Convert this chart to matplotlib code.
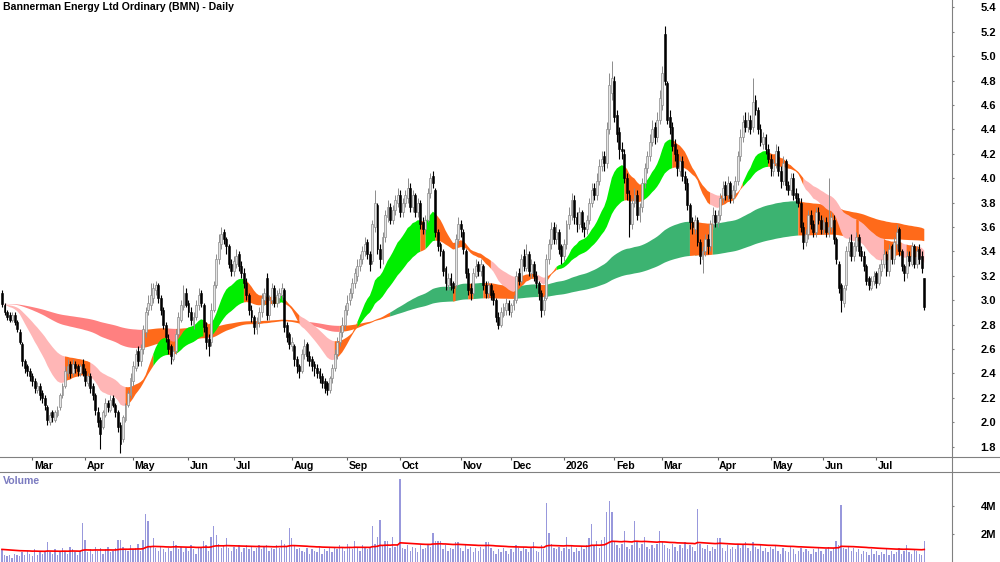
import numpy as np
import pandas as pd
import matplotlib
matplotlib.use("Agg")
import matplotlib.pyplot as plt

plt.rcParams['font.family'] = ['Liberation Sans', 'DejaVu Sans']
plt.rcParams['font.weight'] = 'bold'

# daily candles (Feb 2025 - Jul 2026)
opens = [
    3.06, 2.96, 2.90, 2.88, 2.84, 2.88, 2.82, 2.74, 2.64, 2.50,
    2.46, 2.42, 2.38, 2.34, 2.26, 2.30, 2.24, 2.20, 2.12, 2.00,
    2.08, 2.02, 2.06, 2.12, 2.22, 2.30, 2.40, 2.48, 2.40, 2.48,
    2.46, 2.40, 2.48, 2.42, 2.32, 2.38, 2.30, 2.22, 2.08, 2.02,
    1.96, 2.06, 2.16, 2.10, 2.20, 2.14, 2.08, 1.98, 1.86, 2.02,
    2.14, 2.22, 2.34, 2.44, 2.58, 2.50, 2.60, 2.74, 2.92, 2.96,
    3.02, 3.08, 3.12, 3.02, 2.92, 2.80, 2.68, 2.62, 2.52, 2.58,
    2.72, 2.84, 2.94, 3.06, 2.98, 2.90, 2.80, 2.86, 2.96, 3.06,
    2.96, 2.78, 2.68, 2.66, 2.92, 3.12, 3.34, 3.46, 3.56, 3.50,
    3.44, 3.30, 3.24, 3.30, 3.38, 3.28, 3.22, 3.14, 3.04, 2.92,
    2.86, 2.76, 2.82, 2.90, 3.00, 3.18, 2.88, 3.00, 3.10, 2.98,
    3.02, 3.04, 3.08, 2.80, 2.72, 2.62, 2.62, 2.52, 2.46, 2.42,
    2.56, 2.64, 2.54, 2.52, 2.48, 2.44, 2.42, 2.38, 2.34, 2.32,
    2.26, 2.36, 2.44, 2.56, 2.66, 2.74, 2.80, 2.92, 3.00, 3.06,
    3.14, 3.20, 3.28, 3.34, 3.40, 3.48, 3.38, 3.32, 3.60, 3.78,
    3.42, 3.34, 3.52, 3.68, 3.76, 3.66, 3.74, 3.80, 3.86, 3.72,
    3.80, 3.84, 3.92, 3.76, 3.86, 3.72, 3.80, 3.64, 3.58, 3.66,
    3.88, 4.02, 3.90, 3.56, 3.46, 3.40, 3.26, 3.12, 3.18, 3.14,
    3.12, 3.50, 3.62, 3.56, 3.40, 3.22, 3.10, 3.06, 3.20, 3.30,
    3.24, 3.28, 3.12, 3.06, 3.12, 3.06, 3.00, 2.86, 2.80, 2.88,
    2.92, 2.98, 2.90, 2.96, 3.00, 3.22, 3.16, 3.36, 3.26, 3.38,
    3.22, 3.30, 3.20, 3.14, 3.06, 2.92, 3.02, 3.34, 3.46, 3.60,
    3.50, 3.56, 3.44, 3.36, 3.46, 3.62, 3.70, 3.82, 3.68, 3.62,
    3.72, 3.60, 3.58, 3.66, 3.80, 3.92, 3.86, 3.98, 4.10, 4.18,
    4.12, 4.40, 4.70, 4.80, 4.52, 4.38, 4.24, 4.20, 4.00, 3.86,
    3.62, 3.80, 3.86, 3.70, 3.76, 3.96, 4.08, 4.18, 4.30, 4.42,
    4.34, 4.48, 4.60, 5.18, 4.78, 4.50, 4.42, 4.28, 4.20, 4.06,
    4.14, 4.02, 3.96, 3.78, 3.64, 3.58, 3.66, 3.48, 3.34, 3.40,
    3.50, 3.44, 3.62, 3.70, 3.64, 3.70, 3.84, 3.94, 3.86, 3.96,
    3.84, 3.90, 3.98, 4.18, 4.34, 4.48, 4.42, 4.48, 4.42, 4.64,
    4.56, 4.40, 4.28, 4.34, 4.24, 4.16, 4.06, 4.12, 4.22, 4.06,
    3.98, 4.14, 3.94, 3.90, 4.00, 3.88, 3.84, 3.80, 3.60, 3.48,
    3.54, 3.70, 3.62, 3.56, 3.72, 3.66, 3.58, 3.64, 3.56, 3.60,
    3.66, 3.50, 3.30, 3.12, 2.98, 3.12, 3.40, 3.48, 3.36, 3.44,
    3.52, 3.40, 3.36, 3.28, 3.18, 3.10, 3.16, 3.22, 3.14, 3.24,
    3.30, 3.38, 3.24, 3.44, 3.34, 3.46, 3.58, 3.40, 3.28, 3.22,
    3.36, 3.30, 3.44, 3.30, 3.42, 3.36, 3.18,
]
highs = [
    3.08, 2.98, 2.92, 2.90, 2.90, 2.90, 2.84, 2.76, 2.66, 2.52,
    2.48, 2.44, 2.40, 2.36, 2.33, 2.32, 2.26, 2.22, 2.14, 2.08,
    2.10, 2.10, 2.13, 2.24, 2.32, 2.46, 2.52, 2.50, 2.52, 2.50,
    2.48, 2.48, 2.52, 2.44, 2.40, 2.40, 2.32, 2.24, 2.12, 2.04,
    2.10, 2.20, 2.18, 2.22, 2.22, 2.16, 2.10, 2.00, 2.06, 2.16,
    2.26, 2.40, 2.50, 2.60, 2.62, 2.64, 2.80, 2.94, 3.04, 3.14,
    3.14, 3.16, 3.14, 3.04, 2.94, 2.82, 2.72, 2.64, 2.62, 2.76,
    2.90, 3.00, 3.12, 3.10, 3.00, 2.94, 2.90, 3.00, 3.10, 3.08,
    2.98, 2.82, 2.72, 2.98, 3.16, 3.38, 3.54, 3.60, 3.58, 3.52,
    3.46, 3.34, 3.36, 3.42, 3.40, 3.32, 3.26, 3.18, 3.06, 2.96,
    2.88, 2.86, 2.94, 3.06, 3.10, 3.22, 3.04, 3.14, 3.12, 3.08,
    3.10, 3.14, 3.10, 2.82, 2.74, 2.70, 2.64, 2.54, 2.48, 2.60,
    2.68, 2.66, 2.58, 2.54, 2.50, 2.48, 2.44, 2.40, 2.36, 2.34,
    2.38, 2.48, 2.60, 2.70, 2.78, 2.86, 2.96, 3.04, 3.10, 3.18,
    3.26, 3.34, 3.38, 3.44, 3.52, 3.50, 3.40, 3.66, 3.90, 3.80,
    3.46, 3.56, 3.74, 3.82, 3.80, 3.78, 3.86, 3.92, 3.90, 3.84,
    3.90, 4.00, 3.96, 3.90, 3.88, 3.84, 3.82, 3.68, 3.70, 3.92,
    4.04, 4.06, 3.92, 3.58, 3.48, 3.42, 3.28, 3.22, 3.22, 3.16,
    3.54, 3.68, 3.66, 3.58, 3.42, 3.26, 3.14, 3.26, 3.34, 3.32,
    3.34, 3.30, 3.16, 3.16, 3.14, 3.08, 3.02, 2.90, 2.94, 2.98,
    3.02, 3.00, 2.98, 3.04, 3.24, 3.26, 3.38, 3.42, 3.46, 3.40,
    3.34, 3.32, 3.24, 3.16, 3.08, 3.04, 3.38, 3.50, 3.64, 3.64,
    3.62, 3.58, 3.46, 3.50, 3.66, 3.76, 3.88, 3.86, 3.72, 3.76,
    3.74, 3.64, 3.70, 3.84, 3.96, 3.96, 4.04, 4.16, 4.22, 4.22,
    4.46, 4.86, 4.96, 4.84, 4.56, 4.42, 4.30, 4.24, 4.04, 3.90,
    3.84, 3.92, 3.90, 3.80, 4.00, 4.12, 4.22, 4.36, 4.48, 4.46,
    4.54, 4.72, 4.92, 5.25, 4.80, 4.56, 4.46, 4.32, 4.24, 4.18,
    4.18, 4.06, 4.00, 3.80, 3.68, 3.70, 3.68, 3.50, 3.44, 3.54,
    3.54, 3.66, 3.76, 3.74, 3.74, 3.88, 3.98, 3.98, 4.02, 3.98,
    3.94, 4.02, 4.22, 4.40, 4.52, 4.54, 4.54, 4.52, 4.82, 4.68,
    4.58, 4.44, 4.38, 4.36, 4.28, 4.20, 4.16, 4.28, 4.26, 4.10,
    4.18, 4.16, 3.98, 4.04, 4.04, 3.92, 3.88, 3.84, 3.64, 3.58,
    3.74, 3.74, 3.66, 3.76, 3.76, 3.70, 3.68, 3.68, 4.00, 3.72,
    3.70, 3.52, 3.32, 3.14, 3.12, 3.44, 3.52, 3.54, 3.48, 3.56,
    3.54, 3.44, 3.40, 3.30, 3.20, 3.20, 3.24, 3.24, 3.30, 3.34,
    3.42, 3.40, 3.46, 3.46, 3.52, 3.62, 3.60, 3.42, 3.30, 3.40,
    3.40, 3.48, 3.46, 3.44, 3.46, 3.40, 3.18,
]
lows = [
    2.94, 2.88, 2.84, 2.82, 2.82, 2.80, 2.74, 2.64, 2.46, 2.40,
    2.38, 2.34, 2.30, 2.24, 2.24, 2.18, 2.16, 2.10, 1.98, 1.98,
    2.00, 2.00, 2.04, 2.10, 2.20, 2.28, 2.38, 2.36, 2.38, 2.40,
    2.38, 2.38, 2.38, 2.30, 2.30, 2.24, 2.18, 2.06, 1.96, 1.78,
    1.94, 2.04, 2.08, 2.08, 2.12, 2.04, 1.92, 1.75, 1.84, 2.00,
    2.12, 2.20, 2.30, 2.42, 2.46, 2.46, 2.56, 2.70, 2.88, 2.92,
    2.98, 3.04, 2.98, 2.88, 2.76, 2.66, 2.56, 2.48, 2.50, 2.56,
    2.70, 2.82, 2.92, 2.94, 2.86, 2.80, 2.76, 2.84, 2.92, 2.94,
    2.74, 2.60, 2.54, 2.62, 2.90, 3.10, 3.30, 3.42, 3.46, 3.38,
    3.26, 3.20, 3.20, 3.26, 3.24, 3.18, 3.10, 3.00, 2.88, 2.82,
    2.72, 2.72, 2.78, 2.86, 2.96, 2.84, 2.84, 2.96, 2.94, 2.94,
    2.98, 3.00, 2.74, 2.66, 2.60, 2.58, 2.46, 2.40, 2.36, 2.40,
    2.52, 2.50, 2.46, 2.42, 2.38, 2.36, 2.32, 2.28, 2.24, 2.22,
    2.24, 2.32, 2.42, 2.52, 2.62, 2.70, 2.76, 2.88, 2.96, 3.02,
    3.10, 3.16, 3.24, 3.30, 3.36, 3.34, 3.24, 3.30, 3.56, 3.38,
    3.26, 3.30, 3.48, 3.64, 3.62, 3.62, 3.70, 3.76, 3.68, 3.68,
    3.76, 3.80, 3.72, 3.72, 3.68, 3.68, 3.58, 3.54, 3.54, 3.64,
    3.84, 3.92, 3.52, 3.40, 3.36, 3.20, 3.08, 3.08, 3.08, 3.06,
    3.10, 3.46, 3.52, 3.38, 3.18, 3.04, 3.00, 3.04, 3.18, 3.20,
    3.20, 3.08, 3.02, 3.02, 3.00, 2.96, 2.82, 2.76, 2.78, 2.86,
    2.88, 2.88, 2.86, 2.92, 2.98, 3.12, 3.14, 3.24, 3.24, 3.20,
    3.18, 3.16, 3.10, 3.00, 2.86, 2.88, 3.00, 3.30, 3.42, 3.46,
    3.46, 3.38, 3.30, 3.32, 3.42, 3.58, 3.66, 3.62, 3.56, 3.58,
    3.56, 3.52, 3.54, 3.62, 3.76, 3.82, 3.82, 3.94, 4.06, 4.06,
    4.08, 4.36, 4.64, 4.46, 4.30, 4.16, 4.16, 3.96, 3.82, 3.52,
    3.58, 3.76, 3.66, 3.64, 3.72, 3.92, 4.04, 4.14, 4.26, 4.28,
    4.30, 4.44, 4.56, 4.76, 4.44, 4.36, 4.22, 4.14, 4.02, 4.02,
    3.98, 3.90, 3.74, 3.58, 3.54, 3.54, 3.44, 3.30, 3.22, 3.36,
    3.38, 3.40, 3.58, 3.60, 3.60, 3.66, 3.80, 3.82, 3.82, 3.80,
    3.80, 3.86, 3.94, 4.14, 4.30, 4.38, 4.38, 4.36, 4.38, 4.52,
    4.36, 4.26, 4.24, 4.20, 4.12, 4.02, 4.02, 4.08, 4.02, 3.92,
    3.94, 3.90, 3.86, 3.86, 3.82, 3.80, 3.76, 3.56, 3.42, 3.44,
    3.50, 3.58, 3.52, 3.52, 3.62, 3.54, 3.54, 3.52, 3.52, 3.56,
    3.46, 3.30, 3.06, 2.90, 2.94, 3.08, 3.36, 3.32, 3.32, 3.40,
    3.36, 3.32, 3.24, 3.12, 3.08, 3.08, 3.12, 3.10, 3.12, 3.20,
    3.26, 3.20, 3.20, 3.30, 3.30, 3.42, 3.36, 3.24, 3.16, 3.18,
    3.28, 3.28, 3.26, 3.26, 3.30, 3.22, 2.92,
]
closes = [
    2.97, 2.90, 2.86, 2.84, 2.88, 2.82, 2.76, 2.66, 2.50, 2.44,
    2.42, 2.38, 2.34, 2.28, 2.30, 2.22, 2.20, 2.14, 2.02, 2.06,
    2.04, 2.08, 2.10, 2.22, 2.30, 2.42, 2.46, 2.40, 2.48, 2.44,
    2.42, 2.46, 2.40, 2.34, 2.38, 2.28, 2.22, 2.10, 2.00, 1.90,
    2.08, 2.16, 2.12, 2.18, 2.14, 2.08, 1.96, 1.82, 2.04, 2.14,
    2.24, 2.36, 2.46, 2.56, 2.50, 2.60, 2.76, 2.90, 2.98, 3.04,
    3.10, 3.12, 3.02, 2.92, 2.80, 2.70, 2.60, 2.54, 2.58, 2.72,
    2.86, 2.96, 3.06, 2.96, 2.90, 2.84, 2.86, 2.96, 3.04, 2.98,
    2.78, 2.66, 2.62, 2.92, 3.12, 3.34, 3.48, 3.54, 3.50, 3.44,
    3.30, 3.24, 3.32, 3.36, 3.28, 3.22, 3.14, 3.04, 2.92, 2.86,
    2.78, 2.82, 2.90, 3.02, 3.06, 2.88, 3.00, 3.10, 2.98, 3.04,
    3.06, 3.10, 2.78, 2.70, 2.64, 2.66, 2.52, 2.46, 2.42, 2.56,
    2.62, 2.54, 2.50, 2.46, 2.44, 2.40, 2.36, 2.32, 2.28, 2.26,
    2.36, 2.44, 2.56, 2.66, 2.74, 2.80, 2.92, 2.98, 3.06, 3.14,
    3.22, 3.28, 3.34, 3.40, 3.46, 3.38, 3.30, 3.62, 3.80, 3.42,
    3.34, 3.52, 3.70, 3.76, 3.66, 3.74, 3.82, 3.86, 3.72, 3.80,
    3.86, 3.92, 3.76, 3.86, 3.72, 3.80, 3.62, 3.58, 3.66, 3.88,
    4.00, 3.96, 3.56, 3.44, 3.40, 3.24, 3.14, 3.18, 3.12, 3.10,
    3.50, 3.62, 3.58, 3.42, 3.22, 3.08, 3.06, 3.22, 3.28, 3.24,
    3.30, 3.12, 3.06, 3.12, 3.04, 3.00, 2.86, 2.80, 2.90, 2.94,
    2.98, 2.92, 2.96, 3.00, 3.20, 3.16, 3.34, 3.28, 3.38, 3.24,
    3.30, 3.20, 3.14, 3.06, 2.92, 3.00, 3.34, 3.46, 3.58, 3.50,
    3.56, 3.42, 3.36, 3.46, 3.62, 3.70, 3.82, 3.68, 3.62, 3.72,
    3.60, 3.58, 3.66, 3.80, 3.90, 3.86, 3.98, 4.10, 4.16, 4.12,
    4.40, 4.76, 4.82, 4.50, 4.36, 4.24, 4.22, 4.00, 3.88, 3.62,
    3.80, 3.86, 3.70, 3.76, 3.96, 4.08, 4.18, 4.30, 4.40, 4.34,
    4.48, 4.66, 4.86, 4.80, 4.48, 4.42, 4.26, 4.20, 4.08, 4.14,
    4.02, 3.96, 3.78, 3.64, 3.60, 3.66, 3.48, 3.36, 3.40, 3.50,
    3.44, 3.62, 3.70, 3.64, 3.70, 3.84, 3.92, 3.86, 3.96, 3.84,
    3.90, 3.98, 4.18, 4.34, 4.46, 4.42, 4.48, 4.40, 4.62, 4.56,
    4.40, 4.30, 4.34, 4.24, 4.16, 4.08, 4.12, 4.22, 4.06, 3.98,
    4.12, 3.94, 3.90, 4.00, 3.86, 3.84, 3.80, 3.60, 3.48, 3.54,
    3.70, 3.62, 3.56, 3.72, 3.66, 3.58, 3.64, 3.56, 3.60, 3.68,
    3.50, 3.34, 3.10, 3.00, 3.10, 3.40, 3.48, 3.36, 3.44, 3.52,
    3.40, 3.36, 3.28, 3.16, 3.12, 3.16, 3.20, 3.14, 3.26, 3.30,
    3.38, 3.24, 3.42, 3.34, 3.48, 3.56, 3.40, 3.28, 3.22, 3.36,
    3.32, 3.44, 3.30, 3.40, 3.34, 3.26, 2.94,
]
# volume in millions of shares
volume = [
    0.9, 0.5, 0.4, 0.5, 0.3, 0.6, 0.5, 0.4, 0.7, 0.5,
    0.8, 0.6, 0.4, 0.9, 0.5, 0.7, 0.6, 0.8, 1.4, 0.7,
    0.6, 0.9, 0.5, 0.7, 1.0, 0.8, 0.6, 1.1, 0.9, 0.7,
    0.5, 0.8, 2.8, 1.6, 0.7, 0.9, 0.6, 1.1, 0.8, 1.0,
    0.6, 0.9, 1.1, 0.7, 0.8, 1.0, 1.6, 1.6, 1.1, 0.9,
    0.8, 1.2, 0.9, 1.0, 1.3, 0.8, 1.6, 3.4, 2.9, 1.1,
    1.7, 1.0, 0.8, 1.1, 0.9, 0.7, 1.0, 0.8, 1.5, 1.2,
    0.9, 1.1, 0.7, 1.0, 0.8, 1.2, 0.9, 0.6, 1.0, 1.1,
    1.5, 1.2, 0.8, 1.8, 2.6, 1.9, 1.3, 1.0, 1.2, 1.7,
    1.0, 0.8, 1.1, 0.9, 1.2, 0.7, 1.0, 1.2, 0.9, 1.1,
    0.8, 1.0, 1.2, 0.9, 1.1, 1.2, 0.8, 1.0, 0.9, 1.2,
    1.0, 1.6, 1.3, 1.1, 2.4, 1.7, 1.2, 0.9, 1.0, 0.8,
    0.7, 1.0, 0.6, 0.9, 0.8, 0.7, 1.1, 0.6, 0.9, 0.8,
    1.0, 0.7, 1.1, 0.9, 1.2, 1.0, 0.8, 1.3, 1.1, 0.9,
    1.5, 1.0, 0.8, 1.2, 1.0, 0.9, 1.1, 2.6, 1.3, 1.8,
    3.0, 1.2, 1.5, 1.5, 1.0, 1.8, 1.1, 1.3, 5.9, 1.0,
    0.9, 1.2, 0.8, 1.1, 1.0, 0.7, 1.2, 0.9, 1.0, 1.3,
    1.1, 2.1, 1.5, 1.5, 1.5, 0.9, 1.2, 0.8, 1.0, 0.9,
    1.4, 1.4, 1.0, 0.8, 1.2, 0.9, 1.1, 0.7, 1.0, 0.8,
    1.1, 0.9, 1.4, 1.4, 1.0, 0.8, 0.6, 0.9, 0.7, 1.0,
    0.8, 0.6, 0.9, 0.7, 1.2, 1.0, 0.8, 1.1, 0.9, 0.7,
    1.0, 1.4, 0.8, 0.7, 1.2, 0.9, 4.2, 2.1, 1.3, 1.0,
    0.9, 1.1, 0.8, 1.0, 1.8, 0.9, 1.2, 0.7, 1.0, 0.8,
    1.1, 0.9, 1.2, 1.7, 2.7, 1.2, 1.5, 1.0, 1.6, 1.8,
    3.6, 4.35, 3.6, 1.4, 1.2, 1.0, 1.3, 2.2, 1.1, 0.9,
    1.2, 2.9, 1.5, 1.0, 1.3, 1.8, 1.1, 0.9, 1.2, 1.0,
    1.3, 2.2, 1.4, 1.2, 1.0, 0.9, 1.3, 1.1, 0.8, 1.2,
    1.0, 1.4, 0.9, 1.2, 1.1, 0.8, 3.8, 1.3, 1.0, 0.9,
    1.2, 0.8, 1.1, 0.9, 1.7, 1.7, 1.0, 0.8, 1.2, 0.9,
    1.1, 0.9, 1.3, 1.0, 1.2, 1.4, 1.0, 0.8, 1.4, 1.1,
    0.9, 1.2, 0.8, 1.0, 0.7, 1.1, 0.9, 1.2, 0.8, 0.6,
    1.0, 0.8, 0.7, 1.1, 0.9, 0.6, 0.8, 1.0, 0.7, 0.9,
    0.8, 0.6, 0.9, 0.7, 1.0, 0.8, 0.6, 0.9, 1.1, 0.8,
    1.0, 1.5, 1.2, 4.1, 1.0, 0.9, 1.1, 0.8, 1.0, 0.7,
    0.9, 0.6, 0.8, 0.7, 0.5, 0.9, 0.6, 0.8, 0.5, 0.7,
    0.6, 0.9, 0.5, 0.8, 0.6, 0.7, 1.0, 0.6, 0.8, 1.2,
    0.7, 0.6, 0.9, 0.8, 0.6, 0.5, 1.5,
]

month_pos = [12, 33, 52, 74, 92, 115, 137, 158, 182, 202, 223, 243, 262, 284, 305, 326, 347]
month_lbl = ['Mar', 'Apr', 'May', 'Jun', 'Jul', 'Aug', 'Sep', 'Oct', 'Nov', 'Dec',
             '2026', 'Feb', 'Mar', 'Apr', 'May', 'Jun', 'Jul']

short_periods = [20, 24, 28, 33, 38, 44]
long_periods = [140, 160, 185, 210, 240, 280]

o = np.array(opens); h = np.array(highs); l = np.array(lows); c = np.array(closes)
v = np.array(volume)
n = len(c)
x = np.arange(n)
cs = pd.Series(c)

def ribbon(periods):
    # green: fast above slow and all rising, red: fast below slow and all falling,
    # orange: anything in between
    e = np.array([cs.ewm(span=p, adjust=False).mean().values for p in periods])
    d = np.diff(e, axis=1)
    d = np.concatenate([d[:, :1], d], axis=1)
    g = np.diff(e, axis=0)
    bull = np.all(d > 0, axis=0) & np.all(g <= 0, axis=0)
    bear = np.all(d < 0, axis=0) & np.all(g >= 0, axis=0)
    mixed = ~bull & ~bear
    return e.min(axis=0), e.max(axis=0), bull, bear, mixed

def grow(m):
    out = m.copy()
    out[1:] |= m[:-1]
    return out

fig = plt.figure(figsize=(10, 5.62), dpi=100)
W, H = 1000.0, 562.0
ax = fig.add_axes([0, 1 - 457 / H, 952 / W, 457 / H])
axd = fig.add_axes([0, 1 - 472 / H, 952 / W, 15 / H])
axv = fig.add_axes([0, 0, 952 / W, 90 / H])

xlim = (-0.8, 377)

lo, hi, up_m, dn_m, mx_m = ribbon(long_periods)
for m, col in [(up_m, '#3CB371'), (dn_m, '#FF8080'), (mx_m, '#FF6A1A')]:
    ax.fill_between(x, lo, hi, where=grow(m), color=col, lw=0, zorder=1)
lo, hi, up_m, dn_m, mx_m = ribbon(short_periods)
for m, col in [(up_m, '#00EE00'), (dn_m, '#FFB6B6'), (mx_m, '#FF6A1A')]:
    ax.fill_between(x, lo, hi, where=grow(m), color=col, lw=0, zorder=2)

up = c >= o
ax.vlines(x[up], l[up], h[up], color='#8C8C8C', lw=0.7, zorder=3)
ax.vlines(x[~up], l[~up], h[~up], color='black', lw=0.8, zorder=3)
ax.bar(x[up], np.maximum(c[up] - o[up], 0.01), bottom=o[up], width=0.75,
       color='#E4E4E4', edgecolor='#8C8C8C', lw=0.5, zorder=4)
ax.bar(x[~up], np.maximum(o[~up] - c[~up], 0.01), bottom=c[~up], width=0.75,
       color='black', edgecolor='black', lw=0.4, zorder=4)

ax.set_xlim(*xlim)
ax.set_ylim(1.714, 5.46)
ax.set_xticks([])
ax.yaxis.tick_right()
ticks = np.round(np.arange(1.8, 5.41, 0.2), 1)
ax.set_yticks(ticks)
ax.set_yticklabels(['%.1f' % t for t in ticks])
ax.tick_params(axis='y', length=1.5, pad=30.2, color='#808080', labelsize=8)
for t in ax.get_yticklabels():
    t.set_ha('right')
for s in ['top', 'left', 'bottom', 'right']:
    ax.spines[s].set_visible(False)
ax.text(0.003, 0.995, 'Bannerman Energy Ltd Ordinary (BMN) - Daily', transform=ax.transAxes,
        fontsize=7.6, fontweight='bold', va='top', ha='left')

# date band
axd.set_xlim(*xlim)
axd.set_ylim(0, 1)
axd.axis('off')
axd.vlines(month_pos, 0.8, 1.0, color='#606060', lw=0.8)
for p, t in zip(month_pos, month_lbl):
    axd.text(p + 0.6, 0.42, t, fontsize=7.6, fontweight='bold', va='center', ha='left')

# volume
vma = pd.Series(v).ewm(span=60, adjust=False).mean()
axv.bar(x, v, width=0.55, color='#9898DC', lw=0, zorder=2)
axv.plot(x, vma, color='#FF0000', lw=1.2, zorder=3)
axv.set_xlim(*xlim)
axv.set_ylim(0, 6.43)
axv.set_xticks([])
axv.yaxis.tick_right()
axv.set_yticks([2, 4])
axv.set_yticklabels(['2M', '4M'])
axv.tick_params(axis='y', length=1.5, pad=30.2, color='#808080', labelsize=8)
for t in axv.get_yticklabels():
    t.set_ha('right')
for s in ['top', 'left', 'bottom', 'right']:
    axv.spines[s].set_visible(False)
axv.text(0.003, 0.96, 'Volume', transform=axv.transAxes, color='#7B7BC0',
         fontsize=7.6, fontweight='bold', va='top', ha='left')

# frame lines between panels
fig.add_artist(plt.Line2D([0, 1], [1 - 457 / H, 1 - 457 / H], color='#808080', lw=0.8))
fig.add_artist(plt.Line2D([0, 1], [1 - 472 / H, 1 - 472 / H], color='#808080', lw=0.8))
fig.add_artist(plt.Line2D([952 / W, 952 / W], [0, 1], color='#808080', lw=0.8))

fig.savefig('out.png', dpi=100)
